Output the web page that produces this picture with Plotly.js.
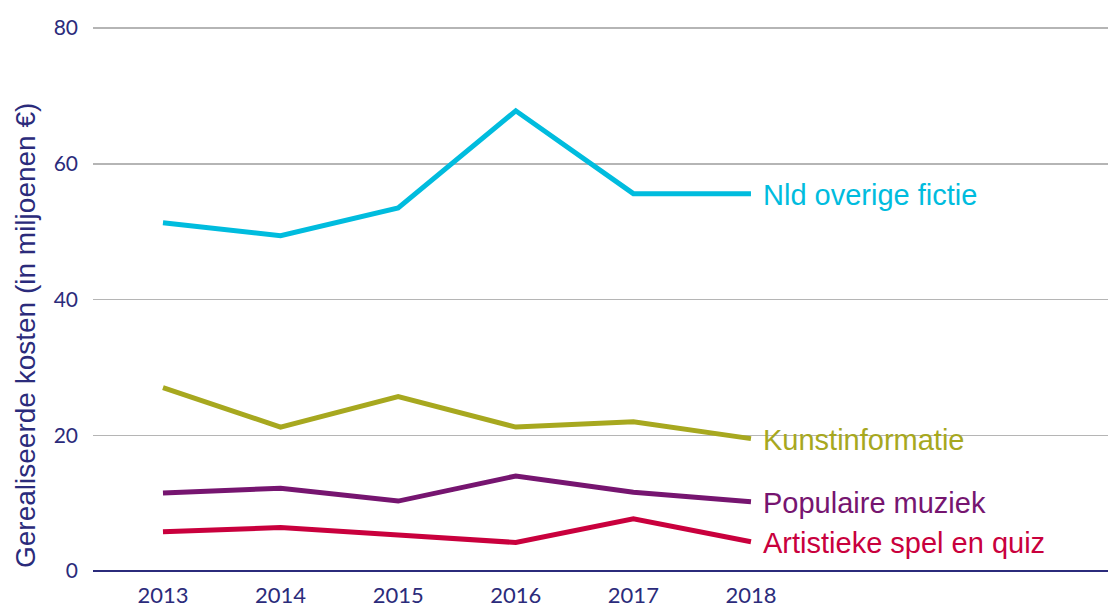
<!DOCTYPE html>
<html>
<head>
<meta charset="utf-8">
<script src="https://cdn.plot.ly/plotly-3.0.1.min.js"></script>
<style>html,body{margin:0;padding:0;background:#fff}#chart{width:1108px;height:607px}</style>
</head>
<body>
<div id="chart"></div>
<script>
const years = [2013, 2014, 2015, 2016, 2017, 2018];
const nldOverigeFictie = [51.3, 49.4, 53.5, 67.8, 55.6, 55.6];
const kunstinformatie = [27.0, 21.2, 25.7, 21.2, 22.0, 19.5];
const populaireMuziek = [11.5, 12.2, 10.3, 14.0, 11.6, 10.2];
const artistiekeSpelEnQuiz = [5.8, 6.4, 5.3, 4.2, 7.7, 4.3];
const seriesNames = ["Nld overige fictie", "Kunstinformatie", "Populaire muziek", "Artistieke spel en quiz"];
const yTicks = [0, 20, 40, 60, 80];

const colors = ["#00BCDE", "#A7A81F", "#761570", "#C9003D"];
const allSeries = [nldOverigeFictie, kunstinformatie, populaireMuziek, artistiekeSpelEnQuiz];
const navy = "#2B2B7B";

const traces = allSeries.map((vals, i) => ({
  x: years, y: vals, type: "scatter", mode: "lines", name: seriesNames[i],
  line: {color: colors[i], width: 5, shape: "linear"}, hoverinfo: "skip"
}));

const annotations = allSeries.map((vals, i) => ({
  x: years[years.length - 1], y: vals[vals.length - 1], xref: "x", yref: "y",
  text: seriesNames[i], showarrow: false, xanchor: "left", yanchor: "middle",
  xshift: 10, yshift: -1,
  font: {family: "Liberation Sans, Arial, sans-serif", size: 29, color: colors[i]}
}));
annotations.push({
  x: -0.066, y: 0.432, xref: "paper", yref: "paper", textangle: -90,
  text: "Gerealiseerde kosten (in miljoenen €)", showarrow: false,
  xanchor: "center", yanchor: "middle",
  font: {family: "Liberation Sans, Arial, sans-serif", size: 28, color: navy}
});

const layout = {
  width: 1108, height: 607,
  margin: {l: 93, r: 0, t: 27, b: 36},
  paper_bgcolor: "#fff", plot_bgcolor: "#fff",
  showlegend: false,
  xaxis: {
    range: [2012.405, 2021.036], tickvals: years, ticktext: years.map(String),
    showgrid: false, zeroline: false, showline: false, ticks: "",
    tickfont: {family: "Lato, Open Sans, sans-serif", size: 22, color: navy},
    ticklabelstandoff: 9
  },
  yaxis: {
    range: [0, 80.15], tickvals: yTicks, ticktext: yTicks.map(String),
    showgrid: true, gridcolor: "#B5B5B5", gridwidth: 1.5,
    zeroline: true, zerolinecolor: navy, zerolinewidth: 2,
    showline: false, ticks: "",
    tickfont: {family: "Lato, Open Sans, sans-serif", size: 21, color: navy},
    ticklabelstandoff: 14
  },
  annotations: annotations
};

Plotly.newPlot("chart", traces, layout, {staticPlot: true, displayModeBar: false});
</script>
</body>
</html>
